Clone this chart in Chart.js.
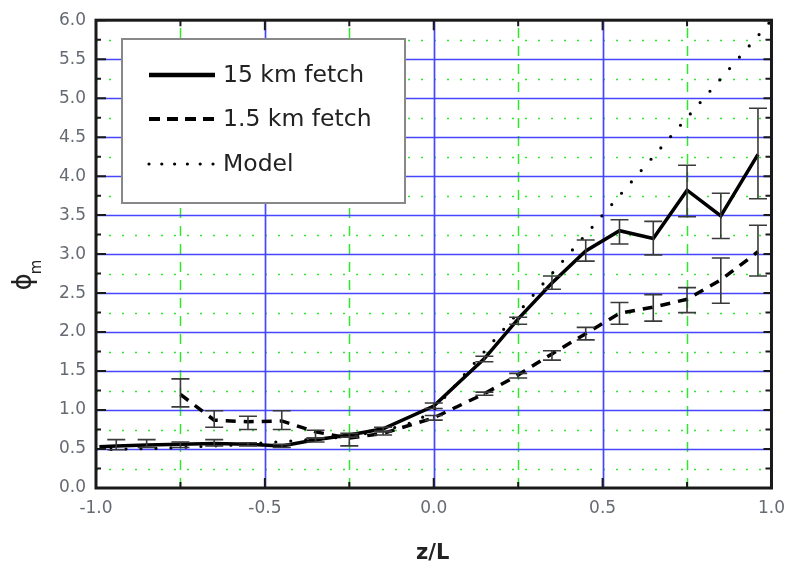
<!DOCTYPE html>
<html>
<head>
<meta charset="utf-8">
<script src="https://cdn.jsdelivr.net/npm/chart.js@4.4.1/dist/chart.umd.min.js"></script>
<style>
html,body{margin:0;padding:0;background:#fff;}
#wrap{width:795px;height:567px;}
</style>
</head>
<body>
<div id="wrap"><canvas id="c" width="795" height="567"></canvas></div>
<script>
// ---- data ----
const xTickValues = [-1.0, -0.5, 0.0, 0.5, 1.0];
const yTickValues = [0.0, 0.5, 1.0, 1.5, 2.0, 2.5, 3.0, 3.5, 4.0, 4.5, 5.0, 5.5, 6.0];
const xMajorGrid = [-0.5, 0.0, 0.5];
const xMinorGrid = [-0.75, -0.25, 0.25, 0.75];
const yMajorGrid = [0.5, 1.0, 1.5, 2.0, 2.5, 3.0, 3.5, 4.0, 4.5, 5.0, 5.5];
const yMinorGrid = [0.25, 0.75, 1.25, 1.75, 2.25, 2.75, 3.25, 3.75, 4.25, 4.75, 5.25, 5.75];

const z15   = [-0.99, -0.94, -0.85, -0.75, -0.65, -0.55, -0.45, -0.35, -0.25, -0.15, 0.0, 0.15, 0.25, 0.35, 0.45, 0.55, 0.65, 0.75, 0.85, 0.96];
const phi15 = [0.53, 0.54, 0.55, 0.56, 0.57, 0.56, 0.54, 0.62, 0.68, 0.76, 1.05, 1.66, 2.17, 2.63, 3.04, 3.30, 3.20, 3.82, 3.49, 4.28];
const lo15  = [null, 0.49, 0.52, 0.52, 0.54, 0.54, 0.52, 0.59, 0.65, 0.73, 1.02, 1.62, 2.10, 2.55, 2.91, 3.13, 2.99, 3.48, 3.20, 3.71];
const hi15  = [null, 0.62, 0.62, 0.59, 0.62, 0.58, 0.56, 0.64, 0.70, 0.78, 1.09, 1.69, 2.19, 2.72, 3.18, 3.44, 3.42, 4.14, 3.78, 4.87];

const z1p5   = [-0.75, -0.65, -0.55, -0.45, -0.35, -0.25, -0.15, 0.0, 0.15, 0.25, 0.35, 0.45, 0.55, 0.65, 0.75, 0.85, 0.96];
const phi1p5 = [1.20, 0.87, 0.85, 0.86, 0.72, 0.64, 0.70, 0.90, 1.21, 1.45, 1.72, 1.98, 2.24, 2.32, 2.42, 2.67, 3.03];
const lo1p5  = [1.04, 0.78, 0.75, 0.75, 0.64, 0.54, 0.68, 0.87, 1.19, 1.41, 1.64, 1.90, 2.10, 2.14, 2.25, 2.37, 2.72];
const hi1p5  = [1.40, 0.99, 0.92, 0.99, 0.74, 0.65, 0.72, 0.93, 1.23, 1.47, 1.76, 2.06, 2.38, 2.48, 2.57, 2.95, 3.37];

const zModel   = [-1.0, -0.9, -0.8, -0.7, -0.6, -0.5, -0.4, -0.3, -0.2, -0.1, -0.05, 0.0, 0.2, 0.4, 0.6, 0.8, 1.0];
const phiModel = [0.49, 0.50, 0.51, 0.53, 0.55, 0.58, 0.61, 0.64, 0.70, 0.79, 0.86, 1.0, 2.0, 3.0, 4.0, 5.0, 6.0];

const seriesLabels = ['15 km fetch', '1.5 km fetch', 'Model'];
const xTitle = 'z/L';
const yTitleMain = '\u03D5';
const yTitleSub = 'm';

// ---- helpers ----
const toPts = (xs, ys) => xs.map((x, i) => ({x: x, y: ys[i]}));
const TICK_FONT = {family: 'DejaVu Sans', size: 17};
const TICK_COLOR = '#666a72';

const framePlugin = {
  id: 'frame',
  beforeDatasetsDraw(chart) {
    const ctx = chart.ctx, a = chart.chartArea;
    const xs = chart.scales.x, ys = chart.scales.y;
    ctx.save();
    // minor green grid
    ctx.strokeStyle = '#2ee82e';
    ctx.lineWidth = 1.5;
    ctx.setLineDash([10, 8]);
    xMinorGrid.forEach(v => {
      const px = Math.round(xs.getPixelForValue(v)) + 0.5;
      ctx.beginPath(); ctx.moveTo(px, a.bottom); ctx.lineTo(px, a.top); ctx.stroke();
    });
    ctx.setLineDash([2, 11]);
    yMinorGrid.forEach(v => {
      const py = Math.round(ys.getPixelForValue(v)) + 0.5;
      ctx.beginPath(); ctx.moveTo(a.left, py); ctx.lineTo(a.right, py); ctx.stroke();
    });
    // major blue grid
    ctx.setLineDash([]);
    ctx.strokeStyle = '#4646ff';
    ctx.lineWidth = 1.7;
    xMajorGrid.forEach(v => {
      const px = Math.round(xs.getPixelForValue(v)) + 0.5;
      ctx.beginPath(); ctx.moveTo(px, a.bottom); ctx.lineTo(px, a.top); ctx.stroke();
    });
    yMajorGrid.forEach(v => {
      const py = Math.round(ys.getPixelForValue(v)) + 0.5;
      ctx.beginPath(); ctx.moveTo(a.left, py); ctx.lineTo(a.right, py); ctx.stroke();
    });
    ctx.restore();
  },
  afterDatasetsDraw(chart) {
    const ctx = chart.ctx, a = chart.chartArea;
    const xs = chart.scales.x, ys = chart.scales.y;
    ctx.save();
    // error bars
    chart.data.datasets.forEach(ds => {
      if (!ds.errLo) return;
      ctx.strokeStyle = ds.errColor || '#444';
      ctx.lineWidth = 1.6;
      ctx.setLineDash([]);
      ds.data.forEach((p, i) => {
        const lo = ds.errLo[i], hi = ds.errHi[i];
        if (lo == null || hi == null) return;
        const px = xs.getPixelForValue(p.x);
        const pl = ys.getPixelForValue(lo), ph = ys.getPixelForValue(hi);
        const cw = 9;
        ctx.beginPath();
        ctx.moveTo(px, pl); ctx.lineTo(px, ph);
        ctx.moveTo(px - cw, pl); ctx.lineTo(px + cw, pl);
        ctx.moveTo(px - cw, ph); ctx.lineTo(px + cw, ph);
        ctx.stroke();
      });
    });
    // tick marks (inward, all four sides)
    ctx.strokeStyle = '#1a1a1a';
    ctx.lineWidth = 2;
    const xAll = xTickValues.concat(xMinorGrid);
    xAll.forEach(v => {
      const major = xTickValues.includes(v);
      const px = xs.getPixelForValue(v);
      const L = major ? 10 : 6;
      ctx.beginPath();
      ctx.moveTo(px, a.bottom); ctx.lineTo(px, a.bottom - L);
      ctx.moveTo(px, a.top); ctx.lineTo(px, a.top + L);
      ctx.stroke();
    });
    const yAll = yTickValues.concat(yMinorGrid);
    yAll.forEach(v => {
      const major = yTickValues.includes(v);
      const py = ys.getPixelForValue(v);
      const L = major ? 10 : 5;
      ctx.beginPath();
      ctx.moveTo(a.left, py); ctx.lineTo(a.left + L, py);
      ctx.moveTo(a.right, py); ctx.lineTo(a.right - (major ? 8 : 6), py);
      ctx.stroke();
    });
    // frame
    ctx.lineWidth = 3;
    ctx.strokeStyle = '#1a1a1a';
    ctx.strokeRect(a.left, a.top, a.right - a.left, a.bottom - a.top);
    ctx.restore();
  },
  afterDraw(chart) {
    const ctx = chart.ctx, a = chart.chartArea;
    ctx.save();
    // legend
    const bx = 122, by = 39, bw = 283, bh = 164;
    ctx.fillStyle = '#fff';
    ctx.fillRect(bx, by, bw, bh);
    ctx.strokeStyle = '#888';
    ctx.lineWidth = 2;
    ctx.strokeRect(bx, by, bw, bh);
    const rows = [75, 119, 164];
    chart.data.datasets.forEach((ds, i) => {
      const y = rows[i];
      ctx.strokeStyle = ds.borderColor;
      ctx.lineWidth = i === 0 ? 4.5 : (i === 1 ? 4 : ds.borderWidth);
      ctx.setLineDash(i === 1 ? [11, 7] : (i === 2 ? [0, 12.8] : []));
      ctx.lineCap = i === 2 ? 'round' : 'butt';
      ctx.beginPath();
      ctx.moveTo(149, y); ctx.lineTo(i === 2 ? 214 : 215, y);
      ctx.stroke();
      ctx.setLineDash([]);
      ctx.fillStyle = '#222';
      ctx.font = '23.5px "DejaVu Sans"';
      ctx.textAlign = 'left';
      ctx.textBaseline = 'middle';
      ctx.fillText(ds.label, 223, y + 1);
    });
    // x title
    ctx.fillStyle = '#222';
    ctx.font = 'bold 21px "DejaVu Sans"';
    ctx.textAlign = 'center';
    ctx.textBaseline = 'middle';
    ctx.fillText(xTitle, (a.left + a.right) / 2 - 1, 554);
    // y title (rotated, with subscript)
    ctx.translate(24, 282);
    ctx.rotate(-Math.PI / 2);
    ctx.font = '26px "DejaVu Sans"';
    ctx.fillText(yTitleMain, 0, 0);
    ctx.font = '15px "DejaVu Sans"';
    ctx.fillText(yTitleSub, 15, 13);
    ctx.restore();
  }
};

const ctx = document.getElementById('c').getContext('2d');
new Chart(ctx, {
  type: 'scatter',
  data: {
    datasets: [
      {
        label: seriesLabels[0],
        data: toPts(z15, phi15),
        showLine: true,
        borderColor: '#000',
        borderWidth: 3.5,
        pointRadius: 0,
        tension: 0,
        errLo: lo15, errHi: hi15, errColor: '#3a3a3a'
      },
      {
        label: seriesLabels[1],
        data: toPts(z1p5, phi1p5),
        showLine: true,
        borderColor: '#000',
        borderWidth: 3.5,
        borderDash: [10, 8],
        pointRadius: 0,
        tension: 0,
        errLo: lo1p5, errHi: hi1p5, errColor: '#3a3a3a'
      },
      {
        label: seriesLabels[2],
        data: toPts(zModel, phiModel),
        showLine: true,
        borderColor: '#000',
        borderWidth: 3.2,
        borderDash: [0, 15],
        borderCapStyle: 'round',
        pointRadius: 0,
        tension: 0
      }
    ]
  },
  options: {
    responsive: false,
    animation: false,
    devicePixelRatio: 1,
    layout: {padding: {top: 14, right: 14, left: 0, bottom: 0}},
    plugins: {legend: {display: false}, tooltip: {enabled: false}},
    scales: {
      x: {
        type: 'linear', min: -1, max: 1,
        afterBuildTicks: s => { s.ticks = xTickValues.map(v => ({value: v})); },
        ticks: {callback: v => Number(v).toFixed(1), font: TICK_FONT, color: TICK_COLOR, padding: 10, maxRotation: 0, autoSkip: false},
        grid: {display: false, drawTicks: false},
        border: {display: false},
        afterFit: s => { s.height = 79; }
      },
      y: {
        type: 'linear', min: 0, max: 6,
        afterBuildTicks: s => { s.ticks = yTickValues.map(v => ({value: v})); },
        ticks: {callback: v => Number(v).toFixed(1), font: TICK_FONT, color: TICK_COLOR, padding: 10, autoSkip: false},
        grid: {display: false, drawTicks: false},
        border: {display: false},
        afterFit: s => { s.width = 96; }
      }
    }
  },
  plugins: [framePlugin]
});
</script>
</body>
</html>
